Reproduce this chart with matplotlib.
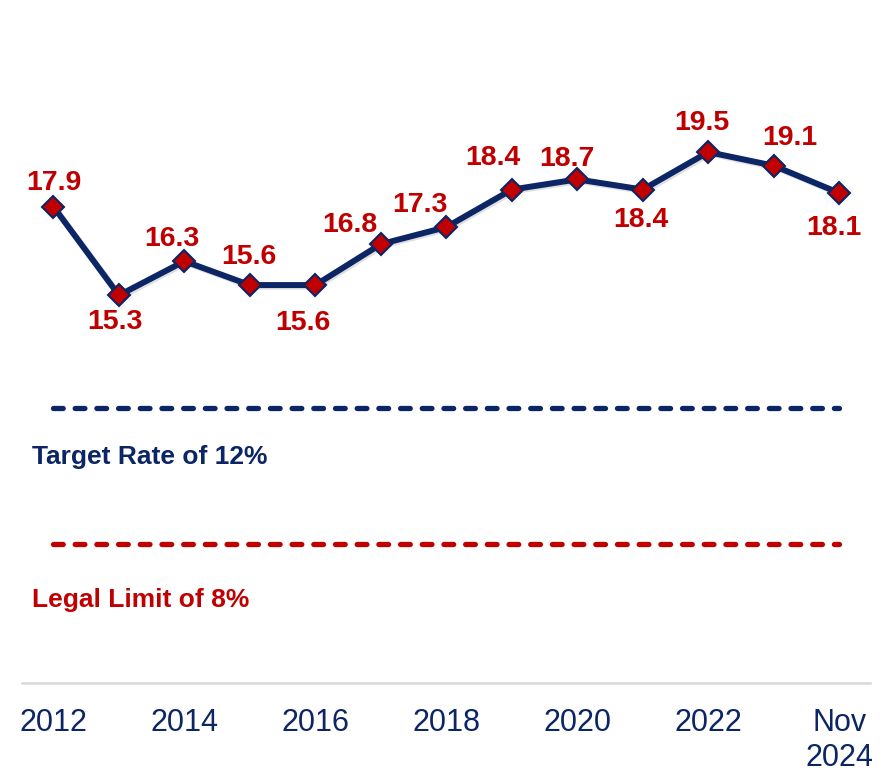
import matplotlib
matplotlib.use("Agg")
import matplotlib.pyplot as plt
import matplotlib.patheffects as pe

years = [2012, 2013, 2014, 2015, 2016, 2017, 2018, 2019, 2020, 2021, 2022, 2023, 2024]
# plotted marker heights (last point sits higher than its label)
values = [17.9, 15.3, 16.3, 15.6, 15.6, 16.8, 17.3, 18.4, 18.7, 18.4, 19.5, 19.1, 18.3]
value_labels = ["17.9", "15.3", "16.3", "15.6", "15.6", "16.8", "17.3", "18.4",
                "18.7", "18.4", "19.5", "19.1", "18.1"]
tick_years = [2012, 2014, 2016, 2018, 2020, 2022, 2024]
tick_labels = ["2012", "2014", "2016", "2018", "2020", "2022", "Nov\n2024"]
target_rate = 12
legal_limit = 8

# label offsets in pixels (dx, dy), layout only
label_dx = [0, -4, -13, -1, -12, -31, -26, -19, -10, -2, -6, 16, -5]
label_dy = [24, -27, 22, 28, -38, 19, 22, 32, 20, -30, 29, 28, -35]

NAVY = "#0B2565"
RED = "#C00000"

plt.rcParams["font.family"] = ["Liberation Sans", "DejaVu Sans"]

fig = plt.figure(figsize=(8.83, 7.72), dpi=100)
ax = fig.add_axes([22 / 883, (772 - 683) / 772, 848 / 883, 683 / 772])
ax.set_xlim(2011.52, 2024.47)
ax.set_ylim(3.93, 23.96)

# reference lines
ax.plot([years[0], years[-1]], [target_rate, target_rate], color=NAVY, lw=3.8,
        dashes=(1.84, 2.27), dash_capstyle="round", zorder=2)
ax.plot([years[0], years[-1]], [legal_limit, legal_limit], color=RED, lw=3.8,
        dashes=(1.84, 2.27), dash_capstyle="round", zorder=2)
ax.text(2011.68, 10.55, f"Target Rate of {target_rate}%", color=NAVY, fontsize=19,
        fontweight="bold", va="center", ha="left")
ax.text(2011.68, 6.35, f"Legal Limit of {legal_limit}%", color=RED, fontsize=19,
        fontweight="bold", va="center", ha="left")

ax.plot(years, values, color=NAVY, lw=4.3, zorder=3, solid_joinstyle="round",
        path_effects=[pe.SimpleLineShadow(offset=(1.2, -1.2), shadow_color="gray", alpha=0.25),
                      pe.Normal()])
ax.plot(years, values, linestyle="none", marker="D", markersize=11.5,
        markerfacecolor=RED, markeredgecolor=NAVY, markeredgewidth=1.5, zorder=4)

for x, v, lab, dx, dy in zip(years, values, value_labels, label_dx, label_dy):
    ax.annotate(lab, (x, v), xytext=(dx, dy), textcoords="offset pixels",
                ha="center", va="center", color=RED, fontsize=20.5, fontweight="bold")

ax.set_xticks(tick_years)
ax.set_xticklabels(tick_labels, fontsize=22, color=NAVY, va="top")
ax.tick_params(axis="x", length=0, pad=18)
ax.set_yticks([])
for s in ["top", "left", "right"]:
    ax.spines[s].set_visible(False)
ax.spines["bottom"].set_color("#D9D9D9")
ax.spines["bottom"].set_linewidth(1.8)

fig.savefig("out.png", dpi=100)
